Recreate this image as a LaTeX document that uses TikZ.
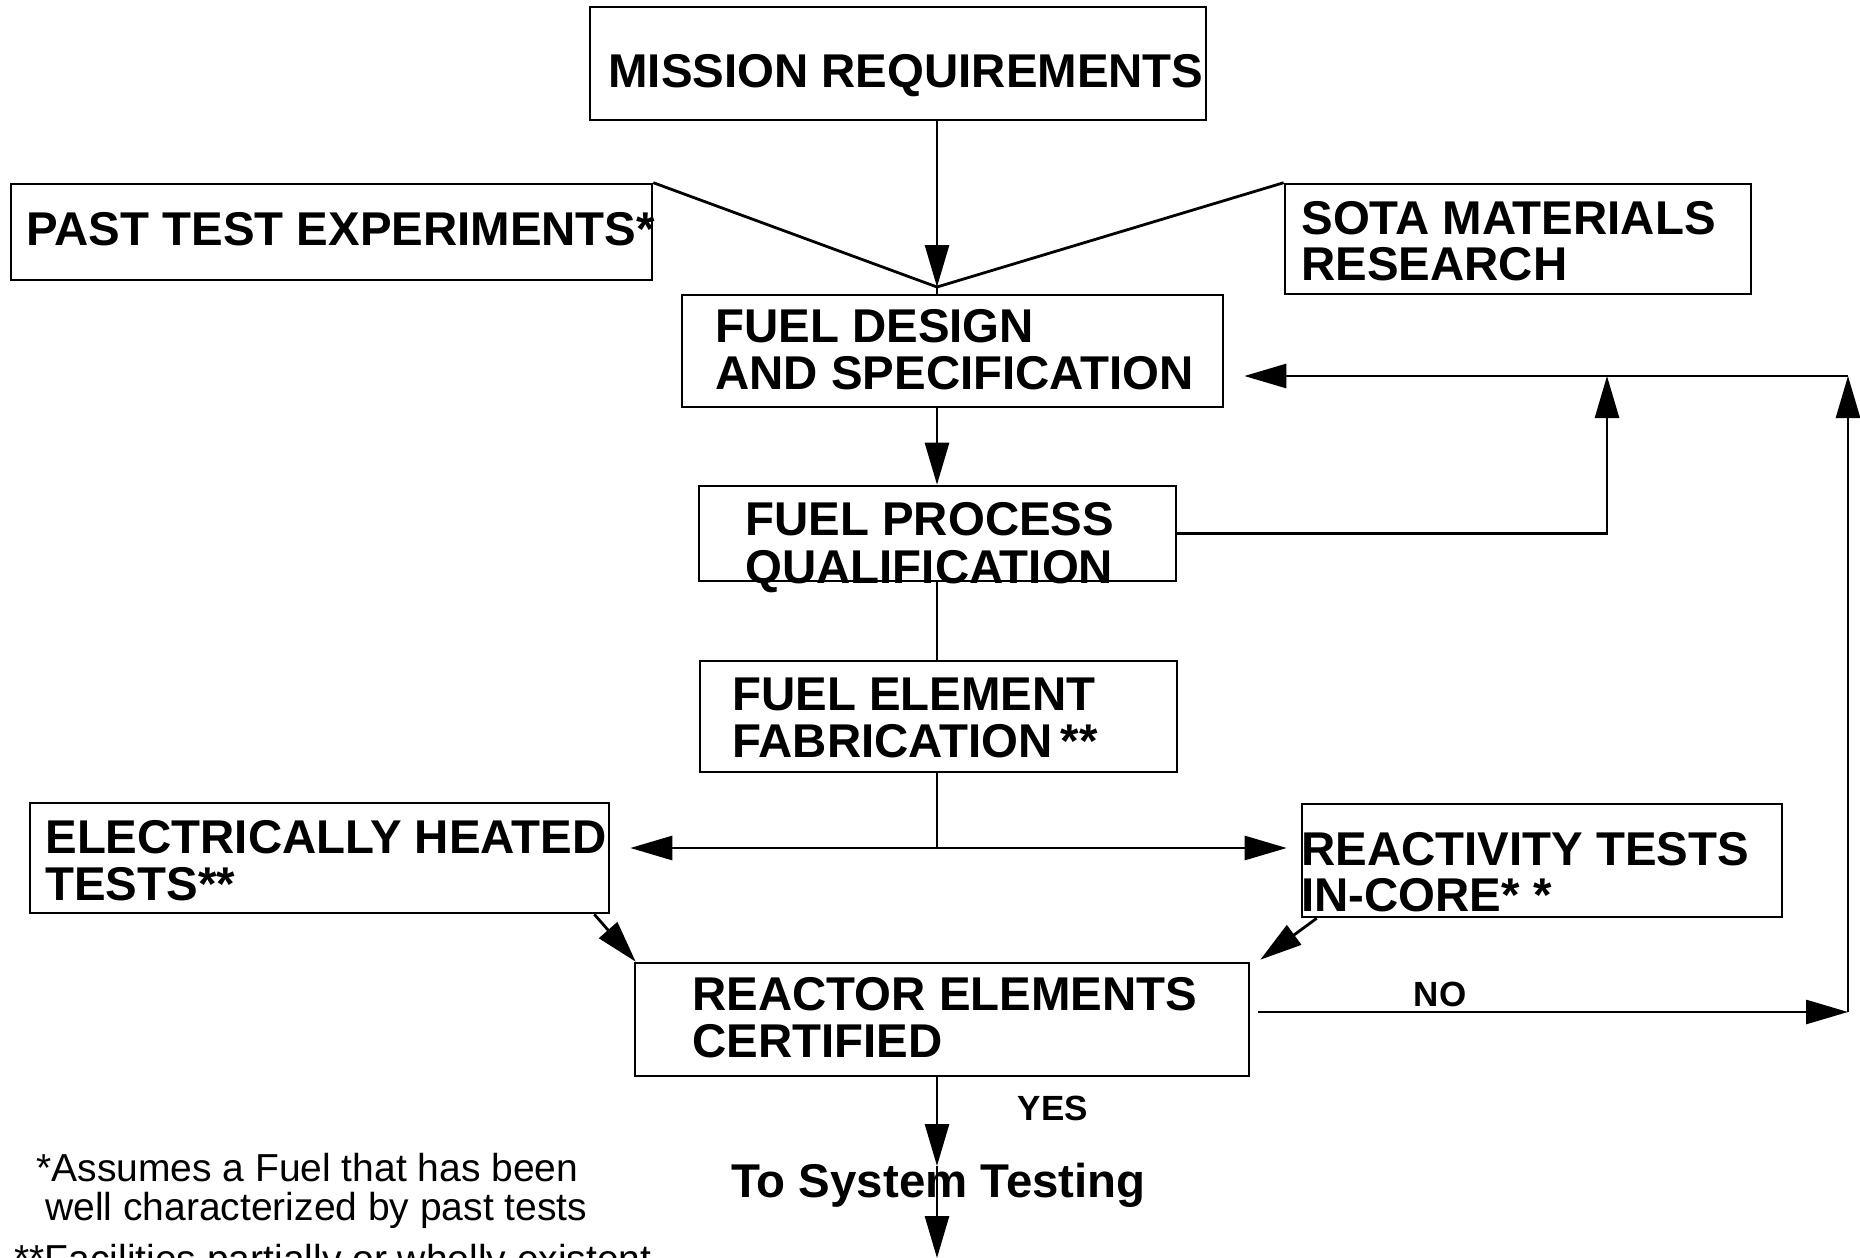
\documentclass[tikz,border=0pt]{standalone}
\usepackage{fontspec}
\setmainfont{Liberation Sans}
\usetikzlibrary{arrows.meta,fit}
\tikzset{
  box/.style={draw, line width=1.3pt, inner sep=0pt},
  txt/.style={anchor=base west, inner sep=0pt, font=\bfseries\fontsize{23.7}{23.7}\selectfont},
  note/.style={anchor=base west, inner sep=0pt, font=\fontsize{19.5}{19.5}\selectfont},
  small/.style={inner sep=0pt, font=\bfseries\fontsize{17.5}{17.5}\selectfont},
  conn/.style={line width=1.4pt},
  tip/.tip={Triangle[length=21pt,width=12pt]},
  arr/.style={line width=1.4pt, -tip},
  darr/.style={line width=1.4pt, tip-tip}
}
\begin{document}
\begin{tikzpicture}[x=0.5pt,y=-0.5pt]
\useasboundingbox (0,0) rectangle (1860,1258);
\clip (0,0) rectangle (1860,1258);
\fill[white] (0,0) rectangle (1860,1258);

% boxes
\node[box, fit={(590,7) (1206,120)}] (mission) {};
\node[box, fit={(11,184) (652,280)}] (past) {};
\node[box, fit={(1285,184) (1751,294)}] (sota) {};
\node[box, fit={(682,295) (1223,407)}] (design) {};
\node[box, fit={(699,486) (1176,581)}] (process) {};
\node[box, fit={(700,661) (1177,772)}] (element) {};
\node[box, fit={(30,803) (609,913)}] (elec) {};
\node[box, fit={(1302,804) (1782,917)}] (react) {};
\node[box, fit={(635,963) (1249,1076)}] (reactor) {};

% texts
\node[txt] (t-mission) at (608,87) {MISSION REQUIREMENTS};
\node[txt] (t-past) at (26,245) {PAST TEST EXPERIMENTS*};
\node[txt] (t-sota1) at (1301,234) {SOTA MATERIALS};
\node[txt] (t-sota2) at (1301,280) {RESEARCH};
\node[txt] (t-design1) at (715,342) {FUEL DESIGN};
\node[txt] (t-design2) at (715,389) {AND SPECIFICATION};
\node[txt] (t-proc1) at (745,535) {FUEL PROCESS};
\node[txt] (t-proc2) at (745,583) {QUALIFICATION};
\node[txt] (t-elem1) at (732,710) {FUEL ELEMENT};
\node[txt] (t-elem2) at (732,757) {FABRICATION\,**};
\node[txt] (t-elec1) at (45,853) {ELECTRICALLY HEATED};
\node[txt] (t-elec2) at (45,900) {TESTS**};
\node[txt] (t-react1) at (1301,865) {REACTIVITY TESTS};
\node[txt] (t-react2) at (1301,911) {IN-CORE* *};
\node[txt] (t-reactor1) at (692,1010) {REACTOR ELEMENTS};
\node[txt] (t-reactor2) at (692,1057) {CERTIFIED};
\node[txt] (t-test) at (731,1197) {To System Testing};
\node[small] (t-yes) at (1053,1108) {YES};
\node[small] (t-no) at (1440,994) {NO};
\node[note] (n1) at (36,1181) {*Assumes a Fuel that has been};
\node[note] (n2) at (45,1220) {well characterized by past tests};
\node[note] (n3) at (14,1272) {**Facilities partially or wholly existent};

% junction coordinates
\coordinate (spine) at (937,0);
\coordinate (conv) at (937,287);
\coordinate (j1) at (1607,376);
\coordinate (rc) at (1848,376);
\coordinate (rb) at (1848,1012);
\coordinate (split) at (937,848);
\coordinate (y1) at (937,1166);
\coordinate (y3) at (937,1258);

% connectors
\draw[arr] (mission.south -| spine) -- (conv);
\draw[conn] (conv) -- (design.north -| spine);
\draw[conn] (past.north east) -- (conv);
\draw[conn] (sota.north west) -- (conv);
\draw[arr] (design.south -| spine) -- (process.north -| spine);
\draw[arr] (process.east) -| (j1);
\draw[arr] (rb) -- (rc);
\draw[arr, shorten >=10pt] (rc) -- (rc -| design.east);
\draw[conn] (process.south -| spine) -- (element.north -| spine);
\draw[conn] (element.south -| spine) -- (split);
\draw[darr] ([xshift=10pt]elec.east |- split) -- ([xshift=-7pt]react.west |- split);
\draw[arr] ([xshift=-8pt]elec.south east) -- ([xshift=1pt]reactor.north west);
\draw[arr] ([xshift=8pt]react.south west) -- ([xshift=5pt,yshift=1pt]reactor.north east);
\draw[arr] ([xshift=4pt]reactor.east |- rb) -- (rb);
\draw[arr] (reactor.south -| spine) -- (y1);
\draw[arr] (y1) -- (y3);
\end{tikzpicture}
\end{document}
